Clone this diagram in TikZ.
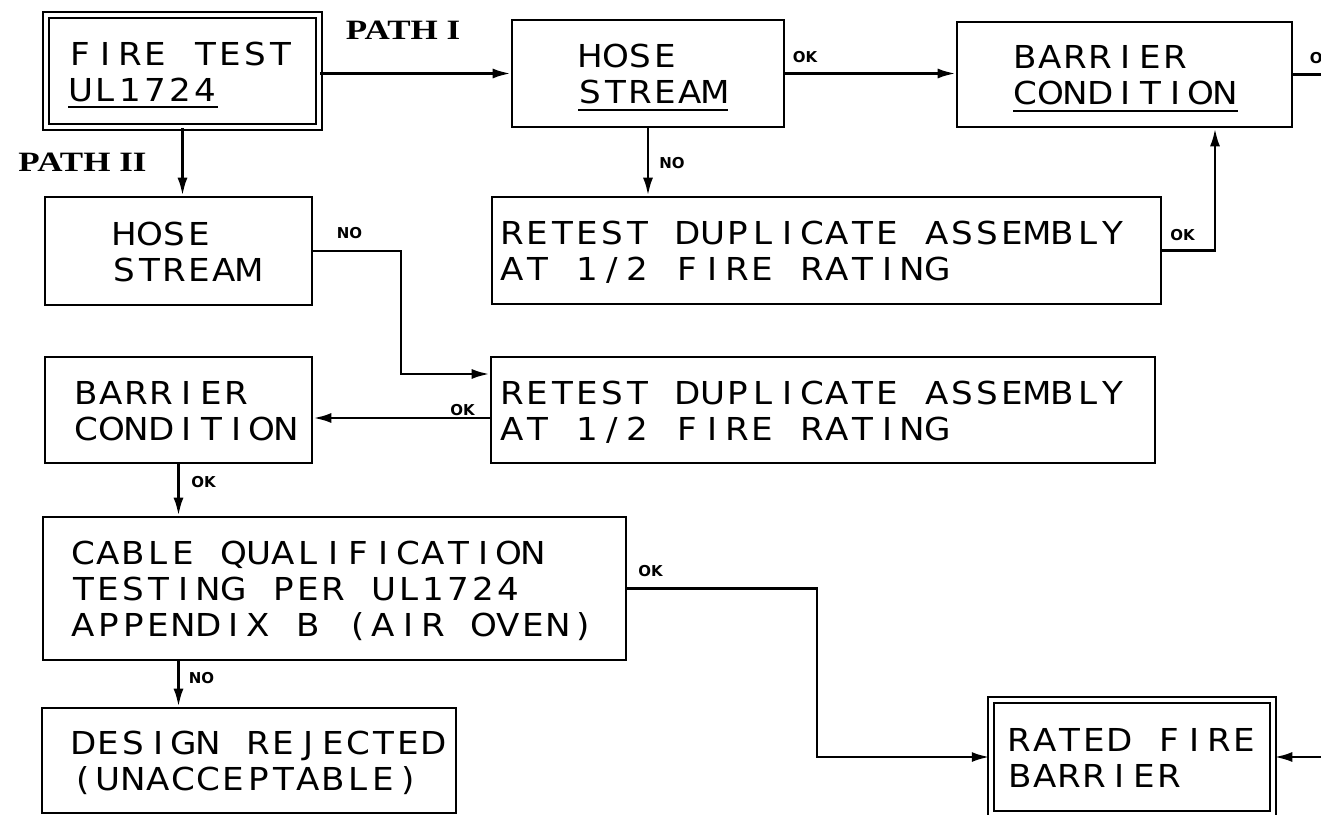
\documentclass[tikz,border=0pt]{standalone}
\usepackage{fontspec}
\usepackage{tikz}
\usetikzlibrary{arrows.meta,calc}
\newfontfamily\cadfont{DejaVu Sans}[FakeStretch=1.08]
\newfontfamily\tagfont{DejaVu Sans}
\newfontfamily\pathfont{Liberation Serif}[FakeStretch=1.25]
% fixed pitch lettering, one cell per character
\ExplSyntaxOn
\NewDocumentCommand\mono{m}{\str_map_inline:nn {#1} {\makebox[12.5pt][c]{##1}}}
\ExplSyntaxOff
\newcommand{\cadline}[1]{\setbox0=\hbox{#1}\rlap{\rule[-3.5pt]{\wd0}{1pt}}\box0}
\newcommand{\lines}[1]{\begin{tabular}{@{}l@{}}\rule{0pt}{17.6pt}#1\end{tabular}}

\begin{document}
\begin{tikzpicture}[x=0.5pt, y=-0.5pt,
    box/.style={draw, line width=1.3pt, rectangle, align=left, inner ysep=0pt,
        font=\cadfont\fontsize{15.8}{18}\selectfont},
    dbox/.style={box, double, line width=1pt, double distance=2pt},
    arr/.style={line width=1.4pt, -{Latex[length=9pt,width=5pt]}},
    tag/.style={font=\tagfont\bfseries\fontsize{7.5}{9}\selectfont, inner sep=0pt},
    pathtag/.style={font=\pathfont\bfseries\fontsize{14}{16}\selectfont, inner sep=0pt}]
    \useasboundingbox (0,0) rectangle (1321,814);

    % boxes
    \node[dbox, text width=114.5pt, inner xsep=11pt, minimum height=56pt] (fire) at (182.5,71) {\lines{\mono{FIRE TEST}\\\cadline{\mono{UL1724}}}};
    \node[box, text width=70pt, inner xsep=33pt, minimum height=53.5pt] (hose1) at (648,73.5) {\lines{\mono{HOSE}\\\cadline{\mono{STREAM}}}};
    \node[box, text width=111.5pt, inner xsep=28pt, minimum height=52.5pt] (barr1) at (1124.5,74.5) {\lines{\mono{BARRIER}\\\cadline{\mono{CONDITION}}}};
    \node[box, text width=326.5pt, inner xsep=4pt, minimum height=53.5pt] (retest1) at (826.5,250.5) {\lines{\mono{RETEST DUPLICATE ASSEMBLY}\\\mono{AT 1/2 FIRE RATING}}};
    \node[box, text width=66.5pt, inner xsep=33.5pt, minimum height=54pt] (hose2) at (178.5,251) {\lines{\mono{HOSE}\\\mono{STREAM}}};
    \node[box, text width=323pt, inner xsep=4.5pt, minimum height=53pt] (retest2) at (823,410) {\lines{\mono{RETEST DUPLICATE ASSEMBLY}\\\mono{AT 1/2 FIRE RATING}}};
    \node[box, text width=104.5pt, inner xsep=14.5pt, minimum height=53pt] (barr2) at (178.5,410) {\lines{\mono{BARRIER}\\\mono{CONDITION}}};
    \node[box, text width=263.5pt, inner xsep=14pt, minimum height=71.5pt] (cable) at (334.5,588.5) {\lines{\mono{CABLE QUALIFICATION}\\\mono{TESTING PER UL1724}\\\mono{APPENDIX B (AIR OVEN)}}};
    \node[box, text width=178pt, inner xsep=14.5pt, minimum height=52.5pt] (design) at (249,760.5) {\lines{\mono{DESIGN REJECTED}\\\mono{(UNACCEPTABLE)}}};
    \node[dbox, text width=124.75pt, inner xsep=8.25pt, minimum height=57pt] (rated) at (1132,757) {\lines{\mono{RATED FIRE}\\\mono{BARRIER}}};

    % path names
    \node[pathtag] (path1) at (403,30) {PATH I};
    \node[pathtag] (path2) at (82.5,162.5) {PATH II};

    % connectors
    \draw[arr] (fire.east |- hose1.west) -- (hose1.west);
    \draw[arr] (hose1.east) -- (hose1.east -| barr1.west);
    \draw[arr] (fire.south) -- (fire.south |- hose2.north);
    \draw[arr] (hose1.south) -- (hose1.south |- retest1.north);
    \coordinate (upturn) at (1215,250.5);
    \draw[arr] (retest1.east) -- (upturn) -- (upturn |- barr1.south);
    \coordinate (nobend) at (401,251);
    \draw[arr] (hose2.east) -- (nobend) |- ([yshift=18pt]retest2.west);
    \draw[arr] ([yshift=-4pt]retest2.west) -- ([yshift=-4pt]retest2.west -| barr2.east);
    \draw[arr] (barr2.south) -- (barr2.south |- cable.north);
    \draw[arr] (cable.south -| barr2.south) -- (barr2.south |- design.north);
    \coordinate (okbend) at (817,588.5);
    \draw[arr] (cable.east) -- (okbend) |- (rated.west);
    \coordinate (offpage) at (1345,74.5);
    \draw[arr] (barr1.east) -- (offpage) |- (rated.east);

    % answers
    \node[tag] (ok1) at (805,57.5) {OK};
    \node[tag] (ok2) at (1322,58) {OK};
    \node[tag] (no1) at (672,163.5) {NO};
    \node[tag] (ok3) at (1182.5,235) {OK};
    \node[tag] (no2) at (349.5,233.5) {NO};
    \node[tag] (ok4) at (462.5,410) {OK};
    \node[tag] (ok5) at (203.5,482.5) {OK};
    \node[tag] (no3) at (201.5,678) {NO};
    \node[tag] (ok6) at (650.5,571) {OK};
\end{tikzpicture}
\end{document}
